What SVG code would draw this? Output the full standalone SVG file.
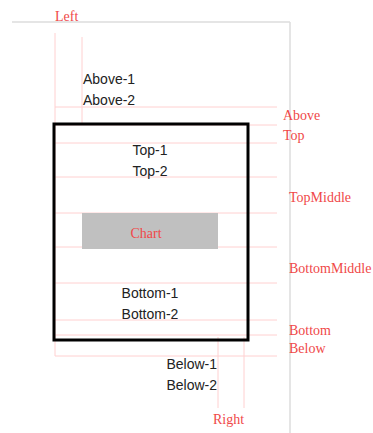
<svg xmlns="http://www.w3.org/2000/svg" width="373" height="433" viewBox="0 0 373 433">
<style>
.g{stroke:#dddddd;stroke-width:1.5;fill:none}
.r{stroke:#ffd0d0;stroke-width:1;fill:none}
.lbl{font-family:"Liberation Serif",serif;font-size:14px;fill:#f04848}
.t{font-family:"Liberation Sans",Arial,sans-serif;font-size:14px;fill:#222}
</style>
<rect width="373" height="433" fill="#fff"/>
<g id="guides">
<line class="g" x1="12" y1="22" x2="290" y2="22"/>
<line class="g" x1="290" y1="22" x2="290" y2="433"/>
<line class="r" x1="55" y1="33" x2="55" y2="356"/>
<line class="r" x1="82" y1="37" x2="82" y2="125"/>
<line class="r" x1="218" y1="337" x2="218" y2="408"/>
<line class="r" x1="244" y1="337" x2="244" y2="408"/>
<line class="r" x1="55" y1="107" x2="277" y2="107"/>
<line class="r" x1="55" y1="125" x2="277" y2="125"/>
<line class="r" x1="55" y1="143" x2="277" y2="143"/>
<line class="r" x1="55" y1="177" x2="277" y2="177"/>
<line class="r" x1="55" y1="213" x2="277" y2="213"/>
<line class="r" x1="55" y1="247" x2="277" y2="247"/>
<line class="r" x1="55" y1="283" x2="277" y2="283"/>
<line class="r" x1="55" y1="320" x2="277" y2="320"/>
<line class="r" x1="55" y1="335" x2="277" y2="335"/>
<line class="r" x1="55" y1="356" x2="277" y2="356"/>
</g>
<g id="labels">
<text class="lbl" x="55" y="21">Left</text>
<text class="lbl" x="283" y="120">Above</text>
<text class="lbl" x="283" y="140">Top</text>
<text class="lbl" x="289" y="202">TopMiddle</text>
<text class="lbl" x="289" y="273">BottomMiddle</text>
<text class="lbl" x="289" y="335">Bottom</text>
<text class="lbl" x="289" y="353">Below</text>
<text class="lbl" x="213" y="424">Right</text>
</g>
<g id="box">
<rect x="54" y="124" width="194" height="216" fill="none" stroke="#000" stroke-width="3"/>
</g>
<g id="chart">
<rect x="82" y="213" width="136" height="36" fill="#c0c0c0"/>
<text class="lbl" x="146" y="238" text-anchor="middle">Chart</text>
</g>
<g id="texts">
<text class="t" x="83" y="84">Above-1</text>
<text class="t" x="83" y="105">Above-2</text>
<text class="t" x="150" y="155" text-anchor="middle">Top-1</text>
<text class="t" x="150" y="176" text-anchor="middle">Top-2</text>
<text class="t" x="150" y="298" text-anchor="middle">Bottom-1</text>
<text class="t" x="150" y="319" text-anchor="middle">Bottom-2</text>
<text class="t" x="217" y="369" text-anchor="end">Below-1</text>
<text class="t" x="217" y="390" text-anchor="end">Below-2</text>
</g>
</svg>
